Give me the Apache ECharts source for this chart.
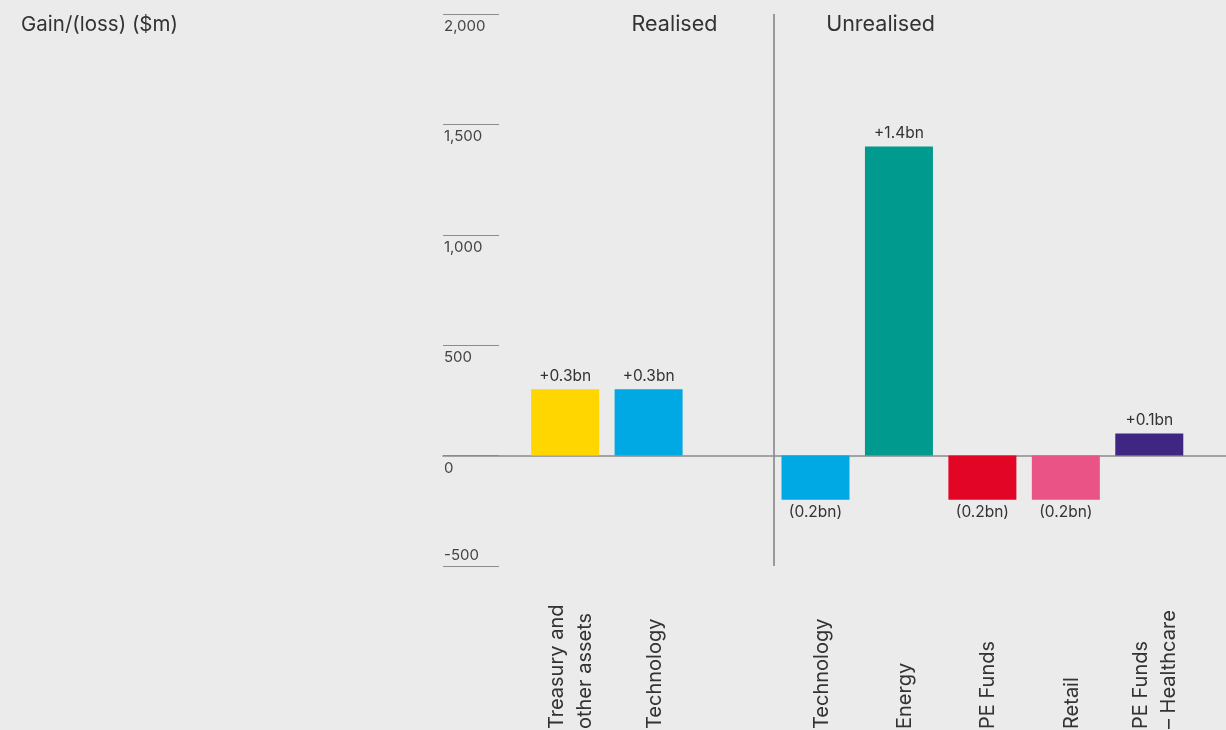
<!DOCTYPE html>
<html>
<head>
<meta charset="utf-8">
<script src="https://cdn.jsdelivr.net/npm/echarts@6/dist/echarts.min.js"></script>
<style>
  html, body { margin: 0; padding: 0; background: #ebebeb; }
  #chart { width: 1226px; height: 730px; }
</style>
</head>
<body>
<div id="chart"></div>
<script>
// Category slots: empty slots leave room before the realised group and between the two groups
const categories = ['', 'Treasury and\nother assets', 'Technology', '', 'Technology', 'Energy', 'PE Funds', 'Retail', 'PE Funds\n– Healthcare'];
// Gain/(loss) in $m for each slot
const values = [null, 300, 300, null, -200, 1400, -200, -200, 100];
const barColors = [null, '#ffd600', '#00a9e3', null, '#00a9e3', '#009a8e', '#e30526', '#e95385', '#3f2682'];
const yTicks = { min: -500, max: 2000, step: 500 };
const groupTitles = ['Realised', 'Unrealised'];
const unitTitle = 'Gain/(loss) ($m)';
// the divider sits on the left edge of the first unrealised slot
const firstUnrealised = 4;

const FONT = 'Inter';
const TEXT = '#333333';
const LINE = '#8c8c8c';

function fmtBn(v) {
  const s = (Math.abs(v) / 1000).toFixed(1) + 'bn';
  return v >= 0 ? '+' + s : '(' + s + ')';
}

const barData = values.map((v, i) => v === null ? null : {
  value: v,
  itemStyle: { color: barColors[i] },
  label: { position: v >= 0 ? 'top' : 'bottom' }
});

const plot = { left: 440, width: 751, top: 14, height: 552 };
const noBounds = { containLabel: false, outerBoundsMode: 'none' };

const chart = echarts.init(document.getElementById('chart'), null, { renderer: 'canvas' });
chart.setOption({
  backgroundColor: '#ebebeb',
  animation: false,
  textStyle: { fontFamily: FONT },
  graphic: [
    { type: 'text', left: 21, top: 14, style: { text: unitTitle, font: '400 20.5px ' + FONT, fill: TEXT } },
    { type: 'text', x: 674.5, y: 25, style: { text: groupTitles[0], font: '400 21.5px ' + FONT, fill: TEXT, align: 'center', verticalAlign: 'middle' } },
    { type: 'text', x: 880.5, y: 25, style: { text: groupTitles[1], font: '400 21.5px ' + FONT, fill: TEXT, align: 'center', verticalAlign: 'middle' } }
  ],
  grid: [
    // bars
    Object.assign({}, plot, noBounds),
    // zero baseline running to the right edge
    Object.assign({ left: 443, right: 0, top: plot.top, height: plot.height }, noBounds),
    // category names, nudged right of the bar centres
    Object.assign({}, plot, { left: plot.left + 6 }, noBounds)
  ],
  xAxis: [
    {
      type: 'category', gridIndex: 0, data: categories,
      axisLine: { show: false }, axisTick: { show: false }, axisLabel: { show: false },
      splitLine: {
        show: true, showMinLine: false, showMaxLine: false,
        // boundary lines of slots 3 and 4; the outer one is dropped by showMinLine
        interval: (idx) => idx === firstUnrealised - 1 || idx === firstUnrealised,
        lineStyle: { color: '#9a9a9a', width: 2 }
      }
    },
    {
      type: 'value', gridIndex: 1, min: 0, max: 1,
      axisLine: { show: true, onZero: true, lineStyle: { color: LINE, width: 1.5 } },
      axisTick: { show: false }, axisLabel: { show: false }, splitLine: { show: false }
    },
    {
      type: 'category', gridIndex: 2, data: categories,
      axisLine: { show: false, onZero: false }, axisTick: { show: false }, splitLine: { show: false },
      axisLabel: {
        rotate: 90, align: 'left', margin: 163, interval: 0,
        color: TEXT, fontSize: 20, lineHeight: 28, fontFamily: FONT
      }
    }
  ],
  yAxis: [
    {
      type: 'value', gridIndex: 0, min: yTicks.min, max: yTicks.max, interval: yTicks.step,
      offset: -3,
      axisLine: { show: false },
      axisTick: { show: true, inside: true, length: 56, lineStyle: { color: LINE, width: 1 } },
      splitLine: { show: false },
      axisLabel: {
        inside: true, margin: 1, color: '#444', fontSize: 15, fontFamily: FONT,
        formatter: (v) => {
          const s = v.toLocaleString('en-US');
          return v === yTicks.min ? '{up|' + s + '}' : '{dn|' + s + '}';
        },
        rich: {
          up: { padding: [0, 0, 22, 0], fontSize: 15, color: '#444', fontFamily: FONT },
          dn: { padding: [25, 0, 0, 0], fontSize: 15, color: '#444', fontFamily: FONT }
        }
      }
    },
    { type: 'value', gridIndex: 1, min: yTicks.min, max: yTicks.max, show: false },
    { type: 'value', gridIndex: 2, min: yTicks.min, max: yTicks.max, show: false }
  ],
  series: [
    {
      type: 'bar', xAxisIndex: 0, yAxisIndex: 0, data: barData, barWidth: 68,
      label: {
        show: true, distance: 5, color: TEXT, fontSize: 15.5, fontFamily: FONT,
        formatter: (p) => fmtBn(p.value)
      }
    }
  ]
});
</script>
</body>
</html>
